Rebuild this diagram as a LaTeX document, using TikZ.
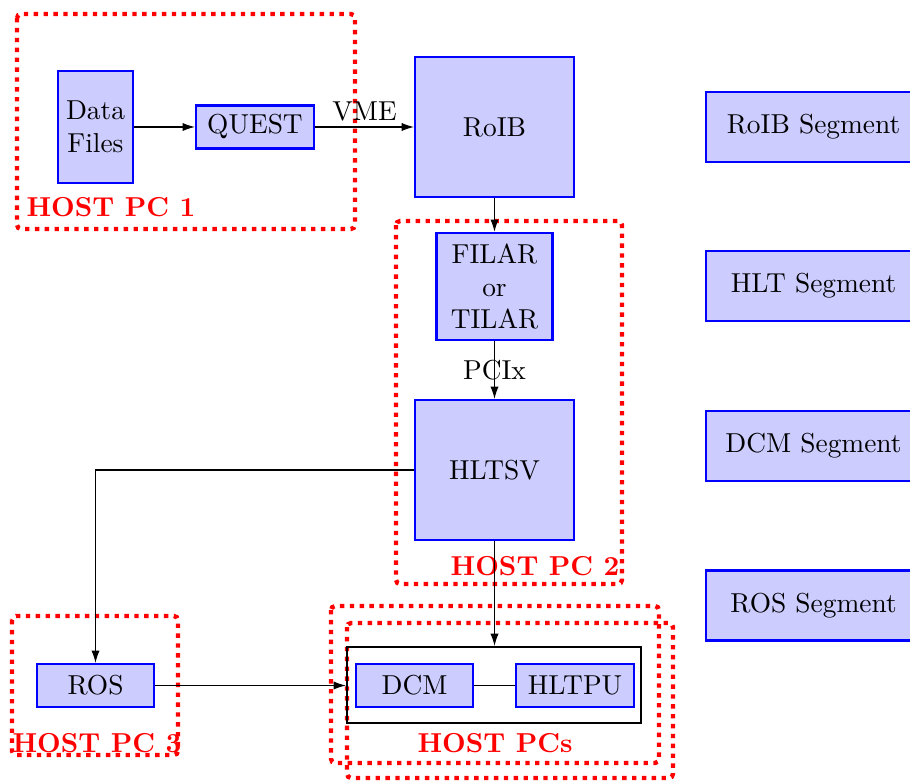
\documentclass[tikz,border=0pt]{standalone}
\usetikzlibrary{arrows.meta}
\begin{document}
\begin{tikzpicture}[x=0.365pt,y=-0.365pt,
  block/.style={draw=blue,fill=blue!20,thick,align=center,inner sep=0pt},
  hostbox/.style={draw=red,ultra thick,dotted,rounded corners=1.5pt},
  hostlabel/.style={text=red,font=\bfseries,inner sep=0pt},
  conn/.style={-{Latex[length=4.5pt,width=3pt]}},
  segbox/.style={block,minimum width=78.5pt,minimum height=25.5pt},
]
\useasboundingbox (0,0) rectangle (910,781);
\clip (0,0) rectangle (910,781);

% host machines (dotted frames)
\draw[hostbox] (17,14) rectangle (355,229);
\draw[hostbox] (396,221) rectangle (622,584);
\draw[hostbox] (12,616) rectangle (178,755);
\draw[hostbox] (331,606) rectangle (659,763);
\draw[hostbox] (347,623) rectangle (673,778);

% components
\node[block,minimum width=27.4pt,minimum height=40.9pt] (data) at (95.5,127) {Data\\Files};
\node[block,minimum width=43.1pt,minimum height=15.7pt] (quest) at (255,127) {QUEST};
\node[block,minimum width=58pt,minimum height=51.1pt] (roib) at (494.5,127) {RoIB};
\node[block,minimum width=42.3pt,minimum height=39.1pt] (filar) at (494.5,286.5) {FILAR\\or\\TILAR};
\node[block,minimum width=58pt,minimum height=51.1pt] (hltsv) at (494.5,470) {HLTSV};
\node[block,minimum width=42.7pt,minimum height=15.7pt] (ros) at (95.5,685.5) {ROS};
\node[draw,thick,minimum width=107.3pt,minimum height=27.7pt,inner sep=0pt] (grp) at (494,685) {};
\node[block,minimum width=42.7pt,minimum height=15.7pt] (dcm) at (414.5,685.5) {DCM};
\node[block,minimum width=43.1pt,minimum height=15.7pt] (hltpu) at (575,685.5) {HLTPU};

% segment legend
\node[segbox] (sroib) at (813.5,127) {RoIB Segment};
\node[segbox] (shlt) at (813.5,286) {HLT Segment};
\node[segbox] (sdcm) at (813.5,446) {DCM Segment};
\node[segbox] (sros) at (813.5,605.5) {ROS Segment};

% host labels
\node[hostlabel,anchor=base west] (l1) at (26,217) {HOST PC 1};
\node[hostlabel,anchor=base east] (l2) at (620,575) {HOST PC 2};
\node[hostlabel,anchor=base west] (l3) at (12,752) {HOST PC 3};
\node[hostlabel,anchor=base] (l4) at (495,752) {HOST PCs};

% connections
\draw[conn] (data) -- (quest);
\draw[conn] (quest) -- node[above,inner sep=2pt] {VME} (roib);
\draw[conn] (roib) -- (filar);
\draw[conn] (filar) -- node[inner sep=0pt] {PCIx} (hltsv);
\draw[conn] (hltsv.west) -| (ros.north);
\draw[conn] (hltsv.south) -- (hltsv.south |- grp.north);
\draw[conn] (ros.east) -- (ros.east -| grp.west);
\draw (dcm) -- (hltpu);
\end{tikzpicture}
\end{document}
